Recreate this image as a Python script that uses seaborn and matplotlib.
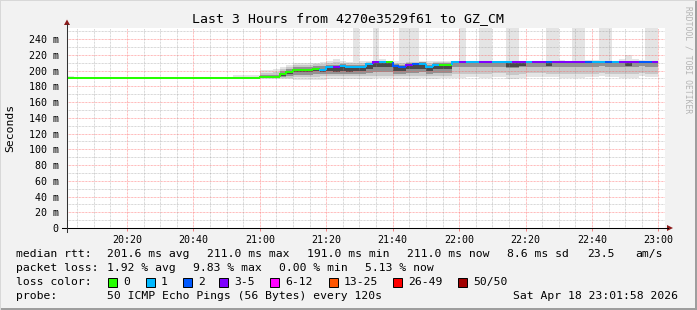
import numpy as np
import pandas as pd
import matplotlib
matplotlib.use("Agg")
import matplotlib.pyplot as plt
import seaborn as sns
from matplotlib.patches import Rectangle, Polygon
from matplotlib.lines import Line2D

# ---------------- data (minutes after 20:00, 2-minute steps) ----------------
step_start = list(range(2, 180, 2))          # 20:02 ... 22:58, 89 steps

median_ms = [191.0, 191.0, 191.0, 191.0, 191.0, 191.0, 191.0, 191.0, 191.0, 191.0,
             191.0, 191.0, 191.0, 191.0, 191.0, 191.0, 191.0, 191.0, 191.0, 191.0,
             191.0, 191.0, 191.0, 191.0, 191.0, 191.0, 191.0, 191.0, 191.0,
             192.0, 192.0, 192.0, 195.7, 198.6, 200.4, 201.1, 201.1, 202.0, 200.4,
             205.0, 204.0, 205.8, 204.0, 205.0, 205.0, 208.8, 210.5, 210.5, 210.5,
             205.8, 205.0, 207.6, 207.8, 208.8, 205.0, 207.6, 207.6, 207.6, 210.5,
             210.5, 210.5, 210.5, 210.5, 210.5, 210.5, 210.5, 210.5, 210.8, 210.8,
             210.8, 210.8, 210.8, 211.3, 211.3, 211.3, 210.5, 211.3, 211.3, 211.3,
             211.3, 211.3, 211.3, 211.3, 211.3, 211.3, 211.3, 211.3, 211.3, 211.3]

loss_pings = [0, 0, 0, 0, 0, 0, 0, 0, 0, 0, 0, 0, 0, 0, 0, 0, 0, 0, 0, 0,
              0, 0, 0, 0, 0, 0, 0, 0, 0, 0, 0, 0, 0, 0, 0, 0, 0, 0, 1, 1,
              3, 1, 1, 1, 1, 1, 3, 1, 0, 2, 2, 3, 2, 1, 1, 1, 0, 0, 1, 3,
              1, 1, 3, 3, 1, 1, 1, 3, 3, 1, 3, 3, 2, 3, 3, 3, 3, 3, 2, 1,
              1, 2, 1, 3, 3, 3, 2, 2, 3]

# outer smoke envelope (min / max ping of each round)
smoke_min = [190.6, 190.6, 190.6, 190.6, 190.6, 190.6, 190.6, 190.6, 190.6, 190.6,
             190.6, 190.6, 190.6, 190.6, 190.6, 190.6, 190.6, 190.6, 190.6, 190.6,
             190.6, 190.6, 190.6, 190.6, 190.6, 190.5, 190.5, 190.5, 190.5,
             189.5, 189.5, 189.5, 189.0, 189.0, 188.5, 188.5, 188.5, 188.5, 188.5,
             189.0, 189.0, 189.0, 189.5, 189.0, 189.5, 189.5, 190.0, 190.0, 190.0,
             189.5, 189.0, 189.5, 189.5, 190.0, 189.5, 189.5, 190.0, 190.0, 191.0,
             190.5, 191.5, 191.5, 191.0, 191.0, 191.5, 191.5, 189.5, 189.5, 190.5,
             192.0, 192.0, 192.0, 191.5, 191.5, 191.0, 191.0, 191.0, 191.0, 191.5,
             191.5, 192.5, 191.5, 191.5, 191.0, 191.0, 191.0, 192.5, 191.5, 191.5]

smoke_max = [193.0, 191.6, 191.6, 191.6, 191.6, 191.6, 191.6, 191.6, 191.6, 191.6,
             191.6, 191.6, 191.6, 191.6, 191.6, 191.6, 191.6, 191.6, 191.6, 191.6,
             191.6, 191.6, 191.6, 191.6, 191.6, 194.0, 194.0, 194.0, 194.0,
             201.0, 200.5, 201.5, 205.0, 207.0, 209.0, 209.5, 209.0, 210.0, 210.5,
             211.8, 214.7, 212.0, 210.5, 300.0, 212.0, 212.5, 300.0, 214.7, 212.0,
             212.0, 300.0, 300.0, 300.0, 212.0, 212.0, 212.0, 212.0, 212.0, 212.6,
             300.0, 212.6, 212.0, 300.0, 300.0, 212.0, 212.0, 300.0, 300.0, 212.6,
             212.0, 212.0, 212.0, 300.0, 300.0, 213.0, 212.6, 300.0, 300.0, 213.0,
             213.0, 300.0, 300.0, 212.6, 214.7, 219.8, 214.7, 213.0, 300.0, 300.0]

# inner bands of the smoke
smoke_q_lo = [190.8, 190.8, 190.8, 190.8, 190.8, 190.8, 190.8, 190.8, 190.8, 190.8,
              190.8, 190.8, 190.8, 190.8, 190.8, 190.8, 190.8, 190.8, 190.8, 190.8,
              190.8, 190.8, 190.8, 190.8, 190.8, 190.8, 190.8, 190.8, 190.8,
              190.0, 190.0, 190.0, 190.5, 191.0, 191.5, 191.5, 191.5, 192.0, 192.5,
              192.5, 193.0, 192.5, 192.5, 192.5, 193.0, 193.5, 193.5, 193.5, 193.5,
              193.0, 192.5, 193.0, 193.0, 193.5, 192.5, 193.0, 193.5, 193.5, 195.5,
              195.5, 196.0, 196.0, 195.5, 195.5, 196.5, 196.5, 194.5, 194.5, 195.5,
              196.5, 196.5, 196.5, 196.0, 196.0, 195.5, 195.5, 195.5, 195.5, 196.0,
              196.0, 196.5, 196.0, 196.0, 195.5, 195.5, 195.5, 196.5, 196.0, 196.0]

smoke_q_hi = [191.4, 191.3, 191.3, 191.3, 191.3, 191.3, 191.3, 191.3, 191.3, 191.3,
              191.3, 191.3, 191.3, 191.3, 191.3, 191.3, 191.3, 191.3, 191.3, 191.3,
              191.3, 191.3, 191.3, 191.3, 191.3, 192.0, 192.0, 192.0, 192.0,
              197.0, 197.0, 197.5, 202.0, 205.0, 207.0, 207.5, 207.5, 208.0, 208.5,
              209.5, 210.5, 210.0, 209.0, 210.0, 210.0, 211.0, 212.0, 212.0, 211.5,
              210.0, 210.0, 210.5, 210.5, 211.0, 210.0, 210.5, 210.5, 210.5, 211.0,
              211.0, 211.0, 211.0, 211.0, 211.0, 211.0, 211.0, 211.0, 211.3, 211.3,
              211.3, 211.3, 211.3, 211.8, 211.8, 211.8, 211.0, 211.8, 211.8, 211.8,
              211.8, 211.8, 211.8, 211.8, 211.8, 212.5, 211.8, 211.8, 211.8, 211.8]

smoke_core_lo = [191.0, 191.0, 191.0, 191.0, 191.0, 191.0, 191.0, 191.0, 191.0, 191.0,
                 191.0, 191.0, 191.0, 191.0, 191.0, 191.0, 191.0, 191.0, 191.0, 191.0,
                 191.0, 191.0, 191.0, 191.0, 191.0, 191.0, 191.0, 191.0, 191.0,
                 190.5, 190.5, 190.5, 191.5, 193.0, 194.0, 194.5, 194.5, 195.0, 195.0,
                 195.5, 196.0, 196.0, 195.5, 196.0, 196.0, 197.0, 198.0, 198.0, 198.0,
                 196.0, 195.5, 197.0, 197.0, 197.5, 195.5, 197.0, 197.0, 197.0, 204.0,
                 204.0, 204.0, 204.5, 204.0, 204.0, 204.5, 204.5, 203.5, 203.5, 204.0,
                 204.5, 204.5, 204.5, 205.0, 205.0, 205.0, 204.0, 205.0, 205.0, 205.0,
                 205.0, 205.5, 205.0, 205.0, 205.0, 205.0, 205.0, 205.5, 205.0, 205.0]

smoke_core_hi = [191.0, 191.0, 191.0, 191.0, 191.0, 191.0, 191.0, 191.0, 191.0, 191.0,
                 191.0, 191.0, 191.0, 191.0, 191.0, 191.0, 191.0, 191.0, 191.0, 191.0,
                 191.0, 191.0, 191.0, 191.0, 191.0, 191.0, 191.0, 191.0, 191.0,
                 194.0, 194.0, 194.0, 199.0, 202.0, 204.0, 205.0, 205.0, 205.5, 206.0,
                 207.5, 207.0, 208.0, 206.5, 207.5, 207.5, 210.0, 211.5, 211.5, 211.0,
                 208.0, 207.5, 209.5, 209.5, 210.5, 207.5, 209.5, 209.0, 209.0, 210.5,
                 210.5, 210.5, 210.5, 210.5, 210.5, 210.5, 210.5, 210.5, 210.8, 210.8,
                 210.8, 210.8, 210.8, 211.3, 211.3, 211.3, 210.5, 211.3, 211.3, 211.3,
                 211.3, 211.3, 211.3, 211.3, 211.3, 211.3, 211.3, 211.3, 211.3, 211.3]

smoke_dark_lo = [191.0, 191.0, 191.0, 191.0, 191.0, 191.0, 191.0, 191.0, 191.0, 191.0,
                 191.0, 191.0, 191.0, 191.0, 191.0, 191.0, 191.0, 191.0, 191.0, 191.0,
                 191.0, 191.0, 191.0, 191.0, 191.0, 191.0, 191.0, 191.0, 191.0,
                 191.0, 191.0, 191.0, 193.5, 196.0, 197.5, 198.0, 198.0, 199.0, 198.5,
                 199.0, 198.5, 200.0, 198.5, 199.5, 199.5, 202.0, 204.0, 204.0, 204.0,
                 200.0, 199.5, 201.5, 201.5, 202.5, 199.5, 201.5, 201.5, 201.5, 207.0,
                 207.0, 207.0, 207.0, 207.0, 207.0, 207.0, 207.0, 205.0, 205.0, 205.5,
                 207.0, 207.0, 207.0, 206.0, 207.0, 207.0, 207.0, 207.0, 207.0, 207.0,
                 207.0, 207.0, 207.0, 207.0, 207.0, 206.0, 207.0, 207.0, 207.0, 207.0]

smoke_dark_hi = [191.0, 191.0, 191.0, 191.0, 191.0, 191.0, 191.0, 191.0, 191.0, 191.0,
                 191.0, 191.0, 191.0, 191.0, 191.0, 191.0, 191.0, 191.0, 191.0, 191.0,
                 191.0, 191.0, 191.0, 191.0, 191.0, 191.0, 191.0, 191.0, 191.0,
                 192.5, 192.5, 192.5, 196.5, 199.5, 201.5, 202.5, 202.5, 203.0, 202.0,
                 205.0, 204.0, 205.5, 203.5, 205.0, 205.0, 208.5, 210.0, 210.0, 210.0,
                 205.5, 205.0, 207.5, 207.5, 208.5, 205.0, 207.5, 207.0, 207.0, 207.0,
                 207.0, 207.0, 207.0, 207.0, 207.0, 207.0, 207.0, 209.5, 209.5, 209.0,
                 207.0, 207.0, 207.0, 210.0, 207.0, 207.0, 207.0, 207.0, 207.0, 207.0,
                 207.0, 207.0, 207.0, 207.0, 207.0, 210.0, 207.0, 207.0, 207.0, 207.0]

loss_labels = ["0", "1", "2", "3-5", "6-12", "13-25", "26-49", "50/50"]
loss_colors = ["#26ff00", "#00b8ff", "#0059ff", "#7e00ff", "#ff00ff",
               "#ff5500", "#ff0000", "#a10000"]

ytick_vals = [0, 20, 40, 60, 80, 100, 120, 140, 160, 180, 200, 220, 240]
ytick_labels = ["0", "20 m", "40 m", "60 m", "80 m", "100 m", "120 m", "140 m",
                "160 m", "180 m", "200 m", "220 m", "240 m"]
xtick_vals = [20, 40, 60, 80, 100, 120, 140, 160, 180]
xtick_labels = ["20:20", "20:40", "21:00", "21:20", "21:40", "22:00", "22:20",
                "22:40", "23:00"]

title = "Last 3 Hours from 4270e3529f61 to GZ_CM"

# ---------------- figure ----------------
W, H = 697, 310
def fx(px):
    return px / W
def fy(py):
    return 1 - py / H

MONO = "DejaVu Sans Mono"
fig = plt.figure(figsize=(W / 100, H / 100), dpi=100)
fig.patch.set_facecolor("#f2f2f2")

ax = fig.add_axes([fx(67), fy(228), fx(665) - fx(67), fy(28) - fy(228)])
ax.set_facecolor("white")
x0 = 1 + 58 / 60
ax.set_xlim(x0, x0 + 180)
ax.set_ylim(0, 254)

starts = np.array(step_start, dtype=float)
bands = [(smoke_min, smoke_max, "#e4e4e4", 1.00),
         (smoke_q_lo, smoke_q_hi, "#c8c8c8", 1.05),
         (smoke_core_lo, smoke_core_hi, "#929292", 1.10),
         (smoke_dark_lo, smoke_dark_hi, "#4a4a4a", 1.15)]
for blo, bhi, col, z in bands:
    blo = np.array(blo); bhi = np.array(bhi)
    ax.bar(starts, bhi - blo, bottom=blo, width=2, align="edge", color=col,
           linewidth=0, zorder=z)

# grid
dot = (0, (0.72, 0.72))
for v in range(10, 254, 10):
    major = v % 20 == 0
    ax.axhline(v, color=(1, 0.35, 0.35, 0.55) if major else (0.55, 0.55, 0.55, 0.45),
               lw=0.72, ls=dot, zorder=1.5)
for m in range(5, 182, 5):
    major = m % 20 == 0
    ax.axvline(m, color=(1, 0.35, 0.35, 0.55) if major else (0.55, 0.55, 0.55, 0.45),
               lw=0.72, ls=dot, zorder=1.5)

# median line coloured by loss
def loss_cat(n):
    if n == 0: return "0"
    if n == 1: return "1"
    if n == 2: return "2"
    if n <= 5: return "3-5"
    if n <= 12: return "6-12"
    if n <= 25: return "13-25"
    if n <= 49: return "26-49"
    return "50/50"

rows = []
for k, (s, m, lp) in enumerate(zip(step_start, median_ms, loss_pings)):
    prev = median_ms[k - 1] if k > 0 else m
    c = loss_cat(lp)
    rows += [(k, s, prev, c), (k, s, m, c), (k, s + 2, m, c)]
df = pd.DataFrame(rows, columns=["seg", "t", "ms", "loss"])
sns.lineplot(data=df, x="t", y="ms", hue="loss", units="seg", estimator=None,
             sort=False, palette=dict(zip(loss_labels, loss_colors)),
             linewidth=1.45, legend=False, ax=ax, zorder=3,
             solid_joinstyle="miter", solid_capstyle="butt")
ax.set_xlabel(""); ax.set_ylabel("")

for sp in ax.spines.values():
    sp.set_visible(False)
ax.set_yticks(ytick_vals)
ax.set_yticklabels(ytick_labels, fontfamily=MONO, fontsize=7.2)
ax.set_xticks(xtick_vals)
ax.set_xticklabels(xtick_labels, fontfamily=MONO, fontsize=7.2)
ax.tick_params(axis="y", length=0, pad=6)
ax.tick_params(axis="x", length=2.5, width=0.7, color="#f08080", pad=2.5, direction="out")

# axis lines and arrows
fig.add_artist(Line2D([fx(62), fx(668)], [fy(228), fy(228)], color="black", lw=0.75))
fig.add_artist(Line2D([fx(67), fx(67)], [fy(232), fy(24)], color="#333333", lw=0.75))
fig.add_artist(Polygon([[fx(64), fy(25)], [fx(70), fy(25)], [fx(67), fy(19.5)]],
                       closed=True, color="#8b1a1a", lw=0))
fig.add_artist(Polygon([[fx(667), fy(225)], [fx(667), fy(231)], [fx(673), fy(228)]],
                       closed=True, color="#8b1a1a", lw=0))

# titles
fig.text(fx(348), fy(19), title, fontfamily=MONO, fontsize=9.5, ha="center", va="center")
fig.text(fx(10), fy(128), "Seconds", fontfamily=MONO, fontsize=8.2, rotation=90,
         ha="center", va="center")
fig.text(fx(688), fy(60), "RRDTOOL / TOBI OETIKER", fontfamily=MONO, fontsize=5.8,
         rotation=270, ha="center", va="center", color="#b4b4b4")

# legend text
LF = 8.2
def t(px, py, s):
    fig.text(fx(px), fy(py), s, fontfamily=MONO, fontsize=LF, ha="left", va="center")

t(16, 254, "median rtt:")
t(107, 254, "201.6 ms avg")
t(207, 254, "211.0 ms max")
t(307, 254, "191.0 ms min")
t(407, 254, "211.0 ms now")
t(507, 254, "8.6 ms sd")
t(587, 254, "23.5")
t(635, 254, "am/s")

t(16, 268, "packet loss:")
t(107, 268, "1.92 % avg")
t(193, 268, "9.83 % max")
t(279, 268, "0.00 % min")
t(365, 268, "5.13 % now")

t(16, 282, "loss color:")
box_x = [108, 146, 183, 219, 270, 329, 393, 458]
for bx, lab, col in zip(box_x, loss_labels, loss_colors):
    fig.add_artist(Rectangle((fx(bx), fy(286.5)), 9 / W, 9 / H, facecolor=col,
                             edgecolor="black", lw=0.7))
    t(bx + 15, 282, lab)

t(16, 296, "probe:")
t(107, 296, "50 ICMP Echo Pings (56 Bytes) every 120s")
t(513, 296, "Sat Apr 18 23:01:58 2026")

# frame shading
fig.add_artist(Rectangle((0, 0), 1, 2 / H, facecolor="#9e9e9e", lw=0))
fig.add_artist(Rectangle((1 - 2 / W, 0), 2 / W, 1, facecolor="#9e9e9e", lw=0))
fig.add_artist(Rectangle((0, 1 - 1 / H), 1, 1 / H, facecolor="#d8d8d8", lw=0))
fig.add_artist(Rectangle((0, 0), 1 / W, 1, facecolor="#d8d8d8", lw=0))

fig.savefig("out.png", dpi=100, facecolor=fig.get_facecolor())
